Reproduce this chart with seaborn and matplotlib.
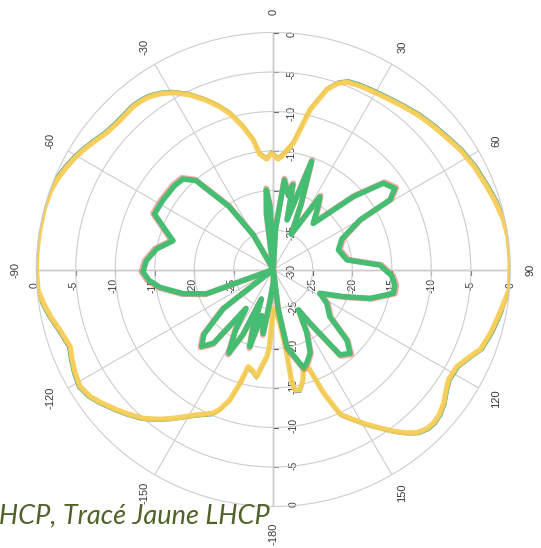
import numpy as np
import pandas as pd
import matplotlib
matplotlib.use("Agg")
import matplotlib.pyplot as plt
import seaborn as sns

# ---------------- data ----------------
# LHCP (yellow) pattern: angle (deg, 0 = top, clockwise) and level (dB)
lhcp_angle = [-180, -177, -175.7, -172.5, -171.2, -168, -165.6, -163.7, -161.6, -159,
              -157.4, -152.2, -146.1, -142.5, -138.9, -135, -131.9, -128, -124.8, -121.2,
              -117.6, -114, -110.8, -105.8, -102, -98.4, -95, -90, -86, -81,
              -75, -70.4, -67, -63.5, -60.5, -57.8, -54, -50.7, -47, -44,
              -40.7, -38, -35.5, -32.5, -29.4, -25.5, -21.5, -18.5, -15.5, -12,
              -8.8, -6.7, -3.4, -1, 0, 2.5, 5, 9, 13, 16.6,
              19, 21.5, 25, 28.5, 33, 38.6, 43, 48.2, 53, 57.3,
              63, 68.7, 73, 77.7, 82, 87.6, 94.8, 100.8, 106, 111.1,
              114, 117.8, 122.1, 125, 128, 131, 133.7, 136, 138.7, 141,
              143.4, 146, 148.9, 152, 155.2, 157.8, 160.3, 163.1, 165, 167.5,
              169.8, 170.7, 170.9, 172.9, 176, 180]
lhcp_db = [-25, -20, -18.9, -17.2, -16.3, -17, -17.3, -15, -12.6, -11,
           -10.3, -9.2, -7.3, -6.1, -5, -4.1, -3.4, -2.5, -1.8, -1.4,
           -1.7, -2.1, -2.5, -1.9, -1.2, -0.6, -0.1, 0, 0, 0,
           0, -0.1, -0.4, -0.8, -1.2, -1.6, -2.2, -2.7, -2.9, -2.9,
           -2.8, -2.9, -3.1, -3.6, -4.3, -5.5, -7, -8.2, -9.5, -11.5,
           -13.4, -15.3, -16, -15.3, -15.5, -16, -15.4, -13.8, -9.2, -6.2,
           -5.1, -4.5, -4.3, -4.2, -4.0, -3.6, -3.2, -2.8, -2.4, -1.9,
           -1.4, -1.0, -0.6, -0.2, 0, 0, 0, -0.8, -1.3, -1.9,
           -2.8, -3.7, -3.8, -3.3, -2.6, -2.1, -1.9, -2.0, -2.5, -3.4,
           -4.5, -5.8, -7.1, -8.5, -9.8, -13.1, -16.8, -16.9, -15.5, -14.4,
           -14.5, -15.6, -19.3, -23.1, -24.5, -25]

# RHCP (green) pattern
rhcp_angle = [-180, -178, -174, -171, -169, -166, -163, -161, -158, -155,
              -152, -148, -145, -141, -137, -133, -128, -122, -115, -110,
              -105, -99, -95, -91, -86, -80, -74, -70, -65, -58,
              -50, -45, -41, -35, -30, -26, -10, -7, -5, -3,
              0, 3, 7, 11, 13, 15.5, 19.5, 23, 27, 32.7,
              36, 40.9, 47.7, 51.9, 56.3, 59.2, 60.3, 66, 73.3, 82.6,
              87.6, 93, 97.3, 101.2, 106.6, 111.2, 117, 122.3, 129.8, 133.8,
              137.5, 142, 145.7, 148, 152, 156, 160, 163, 166, 170,
              173, 176, 180]
rhcp_db = [-27, -28, -26, -21.8, -23, -24, -19.8, -22, -26, -21,
           -18, -21, -24, -18, -16.7, -18, -22, -30, -30, -21,
           -18.2, -15.5, -14.2, -13.5, -13.9, -15, -16.8, -15.5, -13.4, -13.5,
           -13.6, -13.8, -15.1, -20.3, -25, -30, -30, -23, -19.9, -22,
           -30, -25, -18.6, -20.3, -19, -23.5, -15.5, -21, -25, -19.1,
           -20.5, -22.3, -16.3, -12.3, -11.5, -12.8, -17.4, -20.5, -21.4, -20.6,
           -16.5, -15, -14.5, -14.5, -17.2, -20.5, -23.4, -22, -20.7, -17.1,
           -15.6, -16.3, -21.8, -24, -21, -18.5, -17.5, -17, -18.5, -20,
           -25, -30, -27]

ring_levels = [0, -5, -10, -15, -20, -25, -30]
ring_labels = ["0", "-5", "-10", "-15", "-20", "-25", "-30"]
angle_ticks = [0, 30, 60, 90, 120, 150, 180, -150, -120, -90, -60, -30]
angle_labels = ["0", "30", "60", "90", "120", "150", "-180", "-150", "-120", "-90", "-60", "-30"]
caption = "Tracé Vert RHCP, Tracé Jaune LHCP"

# ---------------- figure ----------------
sns.set_theme(style="white")
plt.rcParams["font.family"] = ["Liberation Sans", "DejaVu Sans"]

W, H = 541, 548
fig = plt.figure(figsize=(W / 100, H / 100), dpi=100)
cx, cy, R = 273.3, 269.5, 237.0
rect = [(cx - R) / W, (H - cy - R) / H, 2 * R / W, 2 * R / H]

# overlay cartesian axes (under the polar one) for main axes, ticks and labels
ax2 = fig.add_axes(rect, zorder=0)
ax2.set_xlim(-30, 30)
ax2.set_ylim(-30, 30)
ax2.set_aspect("equal")
ax2.axis("off")
px = 30.0 / R  # data units per pixel

axis_col = "#606060"
ax2.plot([-30.1, 30.1], [0, 0], color=axis_col, lw=0.9, solid_capstyle="butt")
ax2.plot([0, 0], [-30.4, 30.3], color=axis_col, lw=0.9, solid_capstyle="butt")
for lvl in ring_levels[:-1]:
    d = lvl + 30
    for s in (-1, 1):
        ax2.plot([s * d, s * d], [0, -5 * px], color=axis_col, lw=0.8)
        ax2.plot([0, 5 * px], [s * d, s * d], color=axis_col, lw=0.8)

lab_kw = dict(fontsize=7.5, color="#3a3a3a", rotation=90, ha="center", va="center")
for lvl, lab in zip(ring_levels, ring_labels):
    d = lvl + 30
    ax2.text(18 * px, d - 2 * px, lab, **lab_kw)        # top (includes centre -30)
    if lvl != -30:
        ax2.text(20 * px, -d + 2 * px, lab, **lab_kw)   # bottom
        ax2.text(-d - 2 * px, -16 * px, lab, **lab_kw)   # left
        ax2.text(d, -16 * px, lab, **lab_kw)             # right

for a, lab in zip(angle_ticks, angle_labels):
    rr = 32.6 if abs(a) != 180 else 33.4
    t = np.deg2rad(a)
    ax2.text(rr * np.sin(t), rr * np.cos(t), lab, fontsize=8, color="#3a3a3a",
             rotation=90, ha="center", va="center")

# polar axes
ax = fig.add_axes(rect, projection="polar", zorder=1)
ax.patch.set_alpha(0)
ax.set_theta_zero_location("N")
ax.set_theta_direction(-1)
ax.set_ylim(-30, 0)
ax.set_rgrids([-25, -20, -15, -10, -5], labels=[])
ax.set_thetagrids(range(0, 360, 30), labels=[])
ax.grid(True, color="#cdcdcd", lw=0.8)
ax.spines["polar"].set_color("#cdcdcd")
ax.spines["polar"].set_linewidth(0.8)
ax.tick_params(length=0)

df_l = pd.DataFrame({"theta": np.deg2rad(lhcp_angle), "r": lhcp_db})
df_r = pd.DataFrame({"theta": np.deg2rad(rhcp_angle), "r": rhcp_db})
df_l2 = df_l.assign(r=np.minimum(df_l["r"] + 0.3, 0))
df_r2 = df_r.assign(r=np.minimum(df_r["r"] + 0.2, 0))

sns.lineplot(data=df_l2, x="theta", y="r", sort=False, estimator=None, ax=ax,
             color="#2a9fa0", lw=1.2, legend=False)
sns.lineplot(data=df_l, x="theta", y="r", sort=False, estimator=None, ax=ax,
             color="#f7cd55", lw=3.8, alpha=0.95, legend=False)
sns.lineplot(data=df_r2, x="theta", y="r", sort=False, estimator=None, ax=ax,
             color="#e8665a", lw=4.2, alpha=0.55, legend=False)
sns.lineplot(data=df_r, x="theta", y="r", sort=False, estimator=None, ax=ax,
             color="#45bd72", lw=3.9, legend=False)
ax.set_xlabel("")
ax.set_ylabel("")
ax.set_ylim(-30, 0)

fig.text(270 / W, 1 - 523 / H, caption, ha="right", va="baseline",
         fontsize=19.5, style="italic", color="#4f6228", family=["Lato", "DejaVu Sans"])

fig.savefig("out.png", dpi=100)
